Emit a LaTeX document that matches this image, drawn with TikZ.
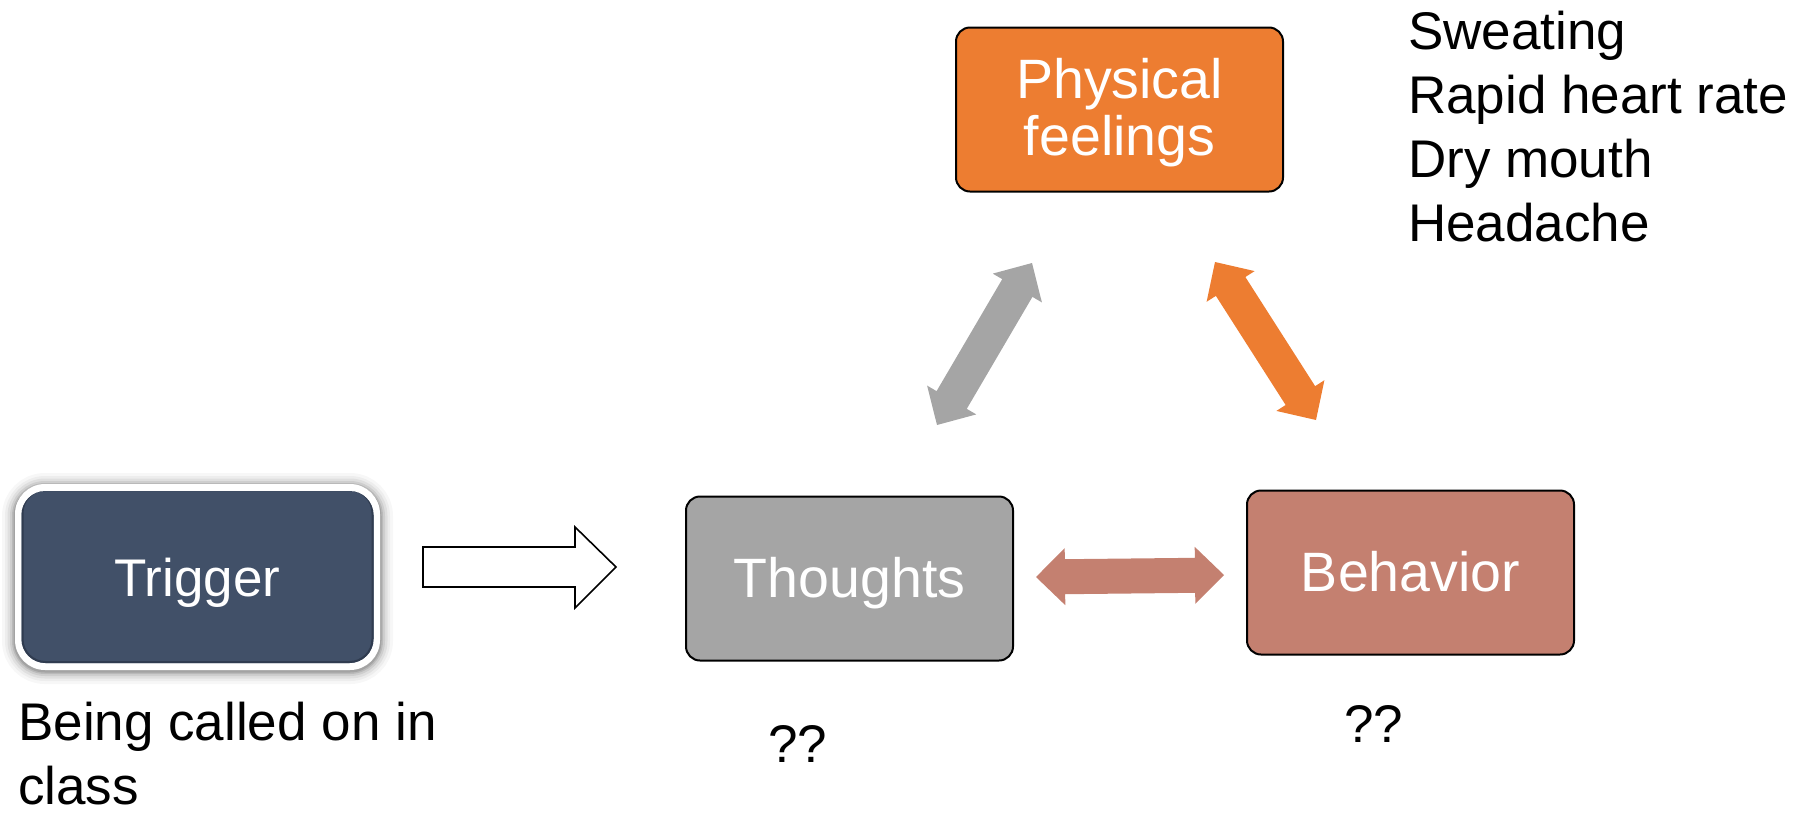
\documentclass[tikz,border=0pt]{standalone}
\usepackage{fontspec}
\setmainfont{Liberation Sans}
\usetikzlibrary{calc}
\definecolor{orangeF}{RGB}{237,125,49}
\definecolor{grayF}{RGB}{165,165,165}
\definecolor{salmonF}{RGB}{196,128,112}
\definecolor{navyF}{RGB}{65,80,104}
\definecolor{navyD}{RGB}{48,60,80}

\newcommand\dbarrow[3]{% #1 colour, #2 start, #3 end
  \coordinate (da) at ($(#2)!29pt!(#3)$);
  \coordinate (db) at ($(#3)!29pt!(#2)$);
  \fill[#1] (#2) -- ($(da)!28.5pt!90:(#3)$) -- ($(da)!17.5pt!90:(#3)$)
    -- ($(db)!17.5pt!-90:(#2)$) -- ($(db)!28.5pt!-90:(#2)$) -- (#3)
    -- ($(db)!28.5pt!90:(#2)$) -- ($(db)!17.5pt!90:(#2)$)
    -- ($(da)!17.5pt!-90:(#3)$) -- ($(da)!28.5pt!-90:(#3)$) -- cycle;}

\tikzset{
  box/.style={draw=black, line width=2pt, rounded corners=14pt,
    minimum width=327pt, minimum height=164pt, inner sep=0pt,
    text=white, font=\fontsize{55.5}{57}\selectfont, text height=38pt, text depth=0pt},
  plain/.style={inner sep=0pt, text=black, align=left, font=\fontsize{53}{63.5}\selectfont},
}

\begin{document}
\begin{tikzpicture}[x=1pt, y=-1pt]
\useasboundingbox (0,0) rectangle (1799,812);

% Trigger box with glow and white frame
\foreach \w/\o in {26/0.03,20/0.04,15/0.06,10/0.08,6/0.10,3/0.12}{
  \draw[black, opacity=\o, line width=\w pt, rounded corners=30pt] (15,486) rectangle (380,671);
}
\fill[white, rounded corners=30pt] (15,484) rectangle (380,670);
\node[fill=navyF, rounded corners=24pt, minimum width=352pt, minimum height=172pt,
      inner sep=0pt, text=white, font=\fontsize{53}{57}\selectfont, text height=38pt, text depth=0pt]
      (trigger) at (197.5,577) {Trigger};
\begin{scope}
  \clip[rounded corners=24pt] (21.5,491) rectangle (373.5,663);
  \draw[navyD, line width=4pt, rounded corners=24pt] (21.5,489) rectangle (373.5,663);
\end{scope}

% Other boxes
\node[box, fill=grayF] (thoughts) at (849.5,578.5) {Thoughts};
\node[box, fill=salmonF] (behavior) at (1410.5,572.5) {Behavior};
\node[box, fill=orangeF, align=center, text height=, text depth=4.5pt] (physical) at (1119.5,109.5) {Physical\\feelings};

% Texts
\node[plain, anchor=base west, font=\fontsize{53}{64}\selectfont] (symptoms) at (1408,241)
  {Sweating\\Rapid heart rate\\Dry mouth\\Headache};
\node[plain, anchor=base west] (situation) at (18,804)
  {Being called on in\\class};
\node[plain, anchor=base west] (q1) at (768,762) {??};
\node[plain, anchor=base west] (q2) at (1344,742) {??};

% Hollow block arrow from trigger to thoughts
\coordinate (ha) at (423,567);
\coordinate (hb) at (616,567);
\draw[black, line width=1.6pt, fill=white, line join=miter]
  ($(ha)+(0,-20)$) -- ($(hb)+(-41,-20)$) -- ($(hb)+(-41,-40)$) -- (hb)
  -- ($(hb)+(-41,41)$) -- ($(hb)+(-41,20)$) -- ($(ha)+(0,20)$) -- cycle;

% Double arrows
\coordinate (g1) at (937,425);
\coordinate (g2) at (1032,263);
\dbarrow{grayF}{g1}{g2}
\coordinate (o1) at (1215,262);
\coordinate (o2) at (1316,420);
\dbarrow{orangeF}{o1}{o2}
\coordinate (s1) at (1036,577);
\coordinate (s2) at (1224,575);
\dbarrow{salmonF}{s1}{s2}
\end{tikzpicture}
\end{document}
